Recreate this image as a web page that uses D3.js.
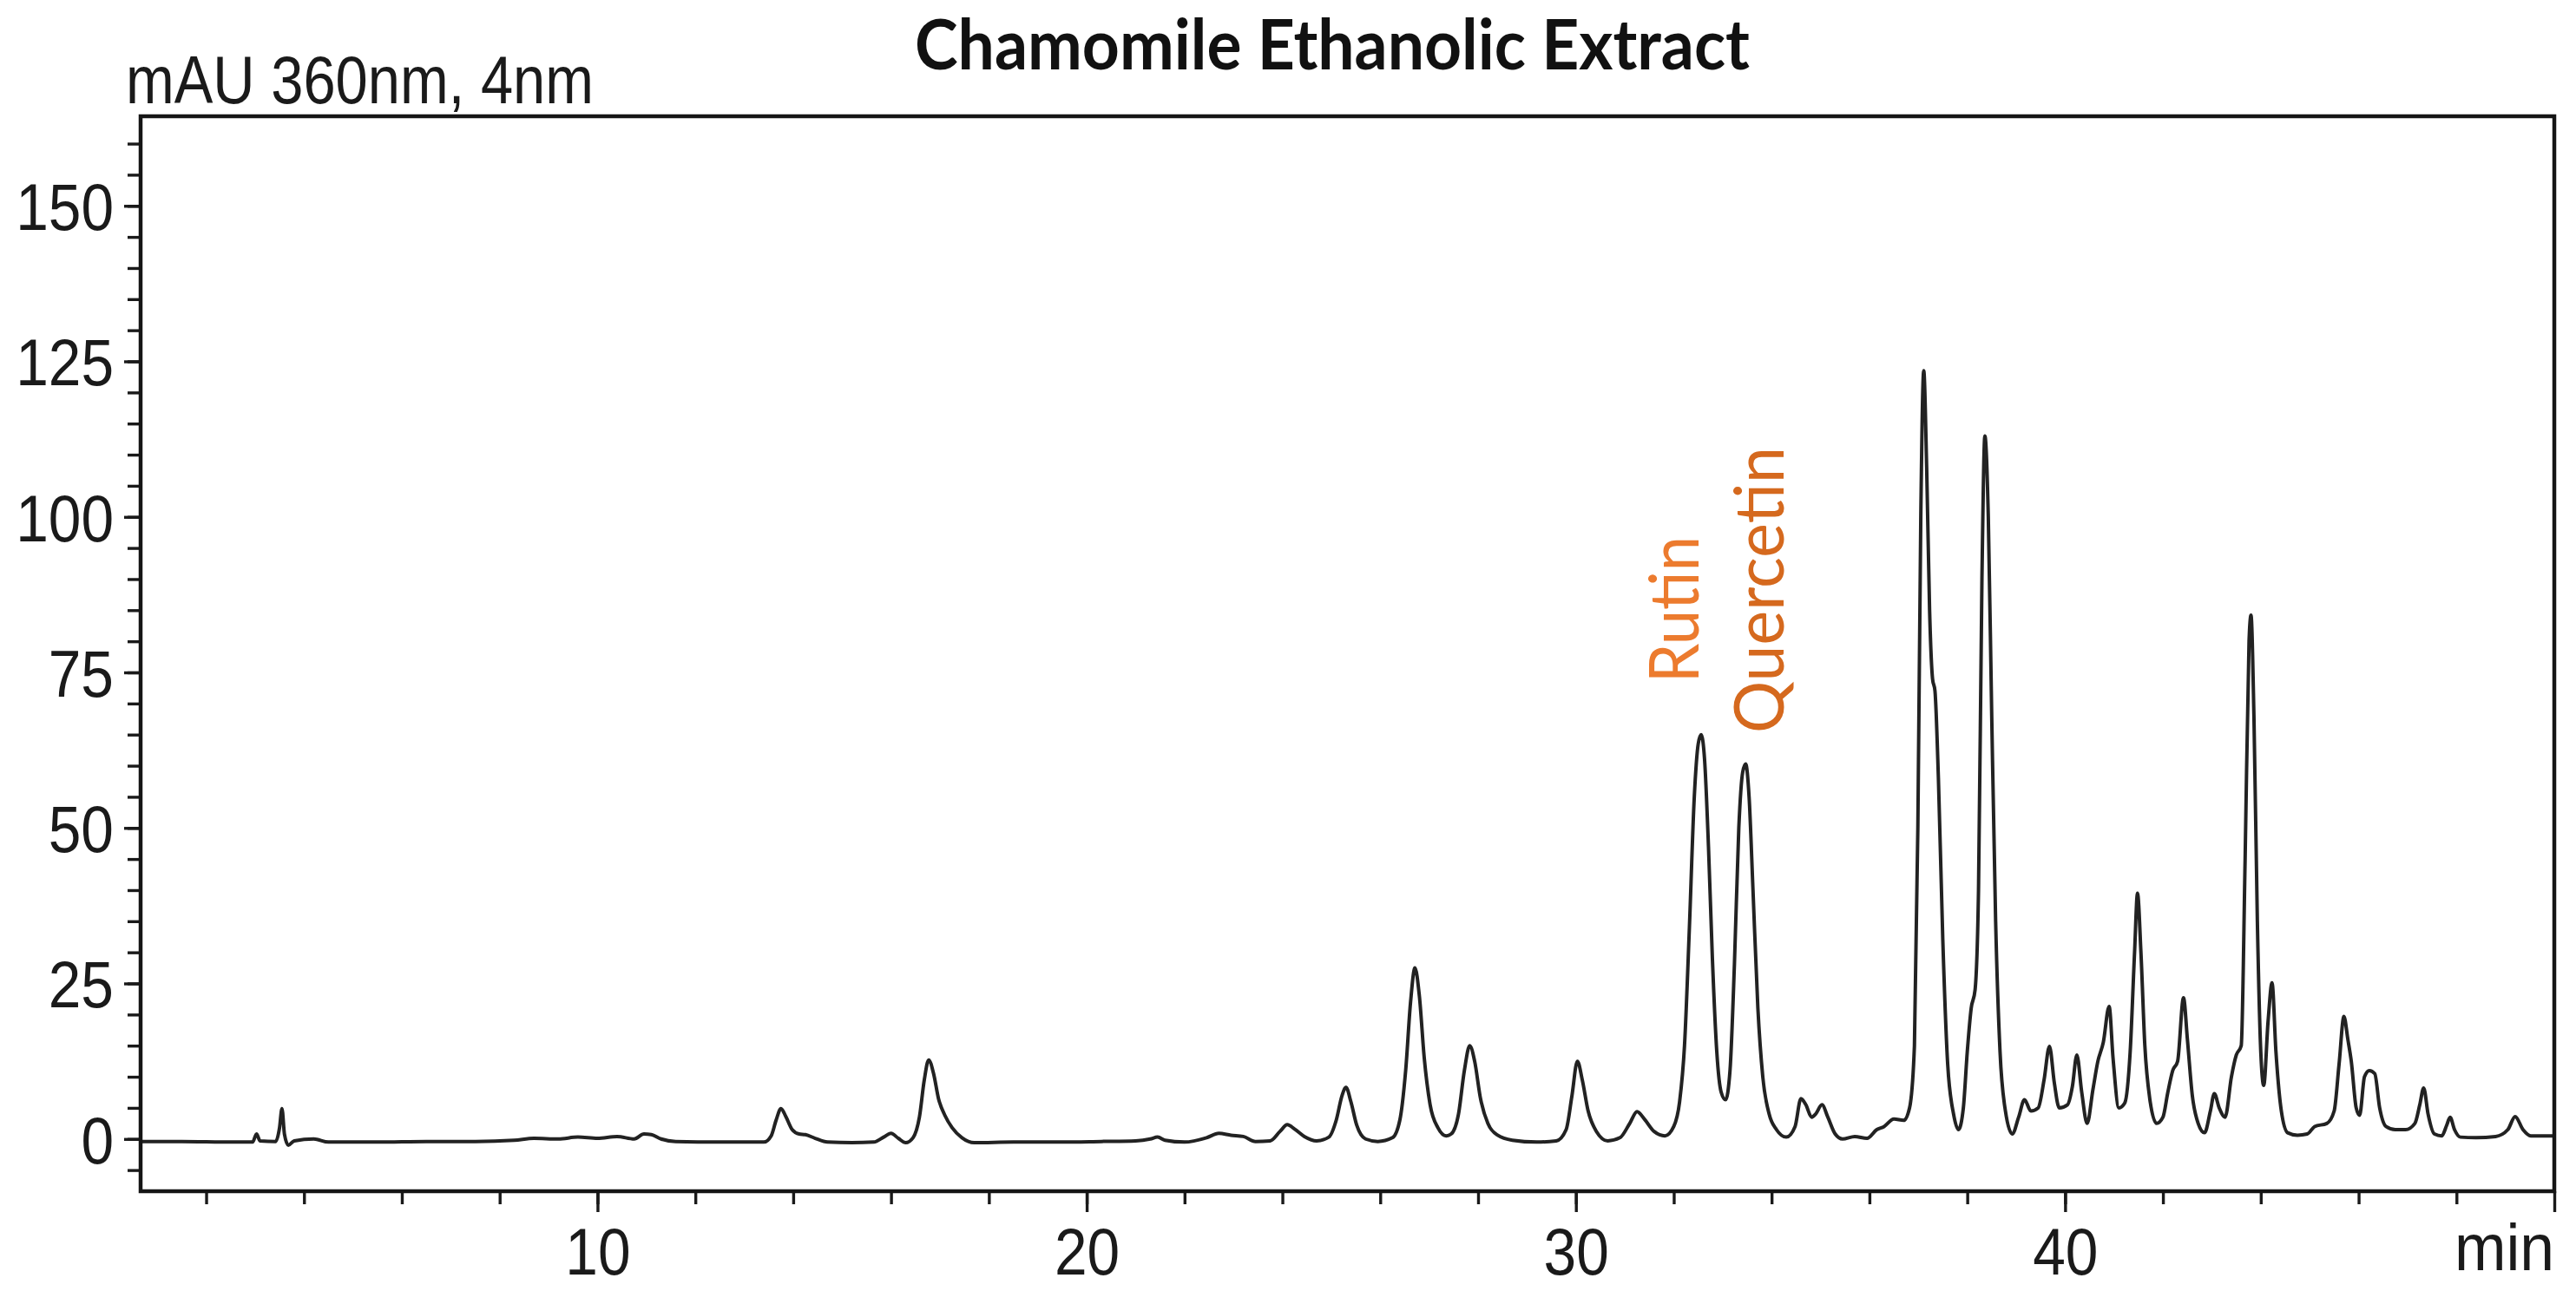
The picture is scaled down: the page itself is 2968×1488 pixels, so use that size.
<!DOCTYPE html>
<html>
<head>
<meta charset="utf-8">
<script src="https://cdn.jsdelivr.net/npm/d3@7"></script>
<style>
  html, body { margin: 0; padding: 0; background: #ffffff; }
  svg { display: block; }
</style>
</head>
<body>
<svg id="chart" width="2968" height="1488"></svg>
<script>
// ---------------- DATA ----------------
const chartTitle = "Chamomile Ethanolic Extract";
const yAxisLabel = "mAU 360nm, 4nm";
const xAxisUnit = "min";

// retention time (min) and absorbance (mAU)
const retentionTime = [
  0.66, 1.5, 2.5, 2.95, 3.03, 3.1, 3.42, 3.5, 3.55, 3.6, 3.68, 3.8, 4.2, 4.5, 5.5, 6.5, 7.5, 8.3, 8.7, 9.2,
  9.6, 10.0, 10.4, 10.75, 10.95, 11.1, 11.3, 11.6, 12.5, 13.4, 13.55, 13.65, 13.75, 13.85, 13.98, 14.12, 14.25, 14.45, 14.7, 15.2,
  15.65, 15.85, 16.0, 16.15, 16.3, 16.45, 16.58, 16.68, 16.77, 16.87, 16.97, 17.1, 17.25, 17.45, 17.7, 18.5, 19.5, 20.3, 21.0, 21.3,
  21.45, 21.6, 22.0, 22.45, 22.7, 22.95, 23.2, 23.45, 23.75, 23.95, 24.1, 24.25, 24.45, 24.7, 24.95, 25.1, 25.22, 25.3, 25.4, 25.52,
  25.7, 25.95, 26.25, 26.4, 26.52, 26.62, 26.71, 26.8, 26.9, 27.02, 27.18, 27.35, 27.45, 27.6, 27.72, 27.83, 27.93, 28.05, 28.2, 28.4,
  28.7, 29.2, 29.6, 29.8, 29.92, 30.03, 30.13, 30.25, 30.42, 30.65, 30.9, 31.1, 31.25, 31.4, 31.6, 31.82, 32.0, 32.12, 32.22, 32.32,
  32.42, 32.5, 32.56, 32.63, 32.71, 32.79, 32.88, 32.97, 33.06, 33.15, 33.24, 33.33, 33.41, 33.47, 33.54, 33.62, 33.72, 33.82, 33.95, 34.1,
  34.3, 34.48, 34.6, 34.7, 34.82, 34.9, 35.03, 35.15, 35.3, 35.45, 35.7, 35.95, 36.15, 36.3, 36.5, 36.7, 36.82, 36.92, 36.99, 37.05,
  37.11, 37.17, 37.23, 37.29, 37.34, 37.41, 37.5, 37.6, 37.72, 37.82, 37.92, 38.0, 38.08, 38.16, 38.23, 38.3, 38.36, 38.43, 38.5, 38.58,
  38.67, 38.78, 38.92, 39.05, 39.17, 39.3, 39.45, 39.57, 39.68, 39.78, 39.88, 40.05, 40.15, 40.24, 40.34, 40.45, 40.57, 40.67, 40.78, 40.9,
  40.98, 41.1, 41.22, 41.33, 41.42, 41.48, 41.55, 41.63, 41.73, 41.87, 42.0, 42.1, 42.2, 42.3, 42.42, 42.5, 42.6, 42.72, 42.85, 42.97,
  43.05, 43.15, 43.27, 43.4, 43.5, 43.6, 43.68, 43.76, 43.8, 43.86, 43.93, 44.0, 44.06, 44.15, 44.23, 44.31, 44.42, 44.55, 44.75, 44.95,
  45.1, 45.35, 45.5, 45.6, 45.7, 45.78, 45.85, 45.95, 46.02, 46.12, 46.22, 46.33, 46.43, 46.56, 46.75, 46.96, 47.15, 47.25, 47.33, 47.42,
  47.55, 47.7, 47.8, 47.87, 47.96, 48.08, 48.4, 48.8, 49.05, 49.2, 49.36, 49.52, 50.0
];
const absorbance = [
  -0.4, -0.4, -0.5, -0.5, 0.8, -0.3, -0.4, 1.8, 4.9, 0.8, -1.0, -0.3, 0.0, -0.5, -0.5, -0.4, -0.4, -0.2, 0.1, 0.0,
  0.3, 0.1, 0.4, 0.0, 0.8, 0.7, 0.0, -0.4, -0.5, -0.5, 0.5, 3.0, 4.9, 3.6, 1.5, 0.8, 0.7, 0.1, -0.5, -0.6,
  -0.5, 0.3, 0.9, 0.1, -0.6, 0.2, 3.5, 9.5, 12.7, 10.5, 6.5, 3.8, 1.8, 0.2, -0.6, -0.5, -0.5, -0.4, -0.3, 0.0,
  0.3, -0.2, -0.5, 0.2, 0.9, 0.6, 0.4, -0.4, -0.3, 1.2, 2.3, 1.6, 0.4, -0.3, 0.3, 3.0, 7.0, 8.3, 6.0, 2.2,
  0.0, -0.4, 0.2, 3.0, 11.0, 22.0, 27.5, 23.0, 13.0, 5.5, 1.8, 0.5, 0.8, 4.0, 11.0, 15.0, 12.5, 6.5, 2.5, 0.6,
  -0.2, -0.5, -0.3, 1.5, 7.0, 12.5, 9.5, 4.5, 1.2, -0.3, 0.2, 2.5, 4.4, 3.2, 1.2, 0.5, 2.0, 6.0, 15.0, 34.0,
  55.0, 63.5, 65.0, 61.0, 47.0, 29.0, 14.0, 7.5, 6.3, 11.0, 28.0, 50.0, 59.0, 60.3, 55.0, 40.0, 21.0, 10.0, 4.0, 1.5,
  0.3, 2.0, 6.5, 5.5, 3.5, 4.0, 5.5, 3.5, 0.8, 0.0, 0.4, 0.1, 1.5, 2.0, 3.2, 3.0, 5.0, 15.0, 50.0, 100.0,
  123.5, 108.0, 85.0, 74.0, 72.0, 58.0, 32.0, 12.0, 4.0, 1.5, 5.0, 14.0, 21.0, 24.0, 40.0, 90.0, 113.0, 100.0, 68.0, 35.0,
  14.0, 4.5, 0.8, 3.5, 6.3, 4.5, 5.0, 9.5, 14.9, 9.0, 5.0, 5.5, 8.5, 13.5, 7.5, 2.5, 8.0, 12.5, 15.5, 21.3,
  13.0, 5.0, 5.8, 14.0, 30.0, 39.5, 30.0, 15.0, 6.5, 2.5, 3.5, 7.5, 11.0, 12.5, 22.7, 16.0, 7.0, 2.5, 1.0, 4.5,
  7.3, 5.0, 3.5, 10.0, 13.5, 15.0, 45.0, 80.0, 84.2, 68.0, 35.0, 14.0, 8.6, 19.0, 25.1, 14.0, 4.5, 1.0, 0.6, 0.8,
  2.0, 2.5, 4.5, 12.0, 19.7, 16.0, 12.5, 5.0, 3.8, 10.0, 11.0, 10.5, 5.0, 2.0, 1.5, 1.5, 2.5, 5.5, 8.2, 4.0,
  0.8, 0.5, 2.2, 3.5, 1.5, 0.3, 0.2, 0.4, 1.5, 3.6, 1.5, 0.5, 0.5
];

// annotated compounds
const compoundNames = ["Rutin", "Quercetin"];
const compoundTimes = [32.56, 33.47];

// axis ticks
const yMajorTicks = [0, 25, 50, 75, 100, 125, 150];
const yTickLabels = ["0", "25", "50", "75", "100", "125", "150"];
const yMinorTicks = d3.range(-5, 161, 5);
const xMajorTicks = [10, 20, 30, 40, 50];
const xTickLabels = ["10", "20", "30", "40", ""];
const xMinorTicks = d3.range(2, 49, 2);

// ---------------- LAYOUT ----------------
const plot = { left: 162, right: 2943, top: 134, bottom: 1373 };
const svg = d3.select("#chart");

const x = d3.scaleLinear().domain([0.66, 50]).range([plot.left, plot.right]);
const y = d3.scaleLinear().domain([-8.4, 164.4]).range([plot.bottom, plot.top]);

const points = retentionTime.map((t, i) => [t, absorbance[i]]);

// trace
svg.append("path")
  .datum(points)
  .attr("fill", "none")
  .attr("stroke", "#222222")
  .attr("stroke-width", 4)
  .attr("stroke-linejoin", "round")
  .attr("d", d3.line().x(d => x(d[0])).y(d => y(d[1])).curve(d3.curveMonotoneX));

// axes
const tickFont = "'Liberation Sans', Arial, sans-serif";
const squeeze = 0.89;

const yMinor = svg.append("g").attr("transform", `translate(${plot.left},0)`)
  .call(d3.axisLeft(y).tickValues(yMinorTicks).tickSize(15).tickFormat(""));
const yMajor = svg.append("g").attr("transform", `translate(${plot.left},0)`)
  .call(d3.axisLeft(y).tickValues(yMajorTicks).tickSize(19).tickPadding(12)
    .tickFormat((d, i) => yTickLabels[i]));

const xMinor = svg.append("g").attr("transform", `translate(0,${plot.bottom})`)
  .call(d3.axisBottom(x).tickValues(xMinorTicks).tickSize(15).tickFormat(""));
const xMajor = svg.append("g").attr("transform", `translate(0,${plot.bottom})`)
  .call(d3.axisBottom(x).tickValues(xMajorTicks).tickSize(24).tickPadding(18)
    .tickFormat((d, i) => xTickLabels[i]));

[yMinor, yMajor, xMinor, xMajor].forEach(g => {
  g.select(".domain").remove();
  g.selectAll(".tick line").attr("stroke", "#1a1a1a").attr("stroke-width", 3.4);
});

yMajor.selectAll(".tick text")
  .attr("font-family", tickFont).attr("font-size", 76).attr("fill", "#1a1a1a")
  .attr("dy", "0.36em")
  .attr("x", -31 / squeeze)
  .attr("transform", `scale(${squeeze},1)`);
xMajor.selectAll(".tick text")
  .attr("font-family", tickFont).attr("font-size", 76).attr("fill", "#1a1a1a")
  .attr("dy", "0.71em")
  .attr("transform", `scale(${squeeze},1)`);

// frame
svg.append("rect")
  .attr("x", plot.left).attr("y", plot.top)
  .attr("width", plot.right - plot.left).attr("height", plot.bottom - plot.top)
  .attr("fill", "none").attr("stroke", "#151515").attr("stroke-width", 4.5);

// unit label
svg.append("text")
  .attr("x", plot.right / 0.94).attr("y", 1464)
  .attr("transform", "scale(0.94,1)")
  .attr("text-anchor", "end")
  .attr("font-family", tickFont).attr("font-size", 76).attr("fill", "#1a1a1a")
  .text(xAxisUnit);

// y axis label
svg.append("text")
  .attr("x", 145).attr("y", 119)
  .attr("font-family", tickFont).attr("font-size", 78).attr("fill", "#1a1a1a")
  .attr("textLength", 539).attr("lengthAdjust", "spacingAndGlyphs")
  .text(yAxisLabel);

// title
svg.append("text")
  .attr("x", 1054).attr("y", 80)
  .attr("font-family", "Lato, 'Open Sans', sans-serif").attr("font-weight", "bold")
  .attr("font-size", 80).attr("fill", "#111")
  .attr("textLength", 962).attr("lengthAdjust", "spacingAndGlyphs")
  .text(chartTitle);

// compound annotations (rotated)
const labelColors = ["#EC7B2E", "#D5691E"];
const labelBaseX = [1957, 2055];
const labelStartY = [787, 845];
const labelLen = [169, 330];
compoundNames.forEach((name, i) => {
  svg.append("text")
    .attr("transform", `translate(${labelBaseX[i]},${labelStartY[i]}) rotate(-90)`)
    .attr("font-family", "Lato, 'Open Sans', sans-serif")
    .attr("font-size", 80).attr("fill", labelColors[i])
    .attr("textLength", labelLen[i]).attr("lengthAdjust", "spacingAndGlyphs")
    .text(name);
});
</script>
</body>
</html>
